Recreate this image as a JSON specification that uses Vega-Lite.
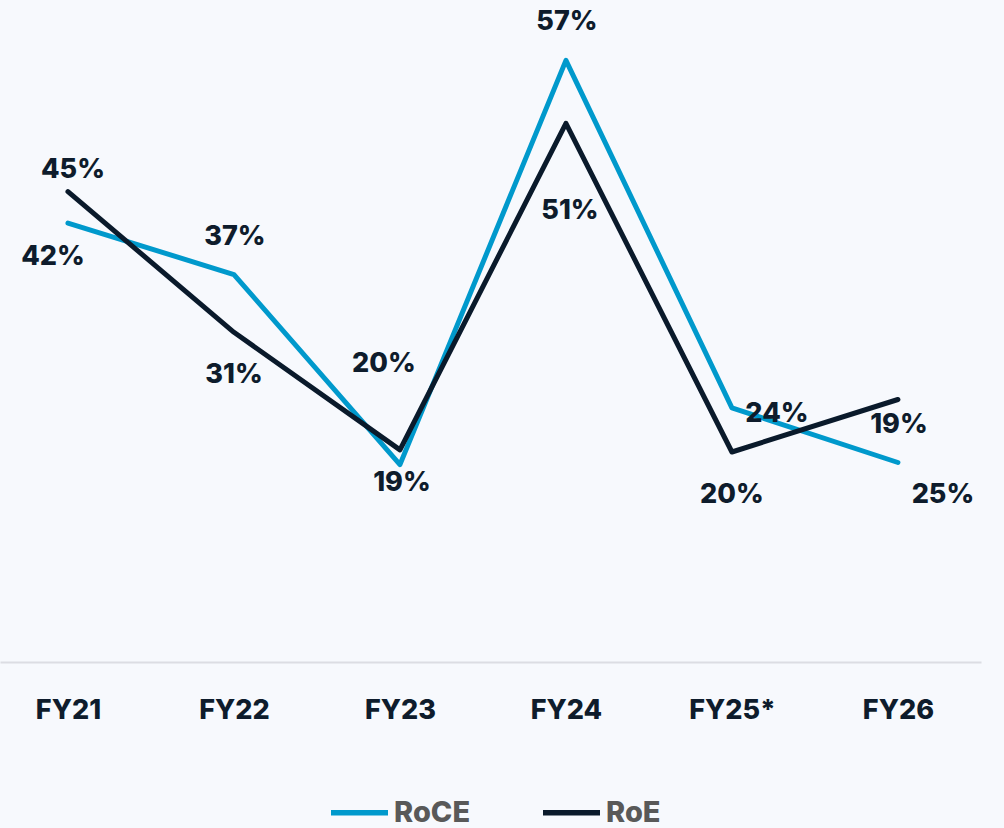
{
  "$schema": "https://vega.github.io/schema/vega-lite/v6.json",
  "width": 981,
  "height": 630,
  "autosize": "none",
  "padding": {"left": 0, "top": 32, "right": 23, "bottom": 166},
  "background": "#f7f9fd",
  "config": {"view": {"stroke": null}},
  "data": {
    "values": [
      {"period": "FY21", "series": "RoCE", "value": 0.418},
      {"period": "FY22", "series": "RoCE", "value": 0.369},
      {"period": "FY23", "series": "RoCE", "value": 0.188},
      {"period": "FY24", "series": "RoCE", "value": 0.573},
      {"period": "FY25*", "series": "RoCE", "value": 0.242},
      {"period": "FY26", "series": "RoCE", "value": 0.19},
      {"period": "FY21", "series": "RoE", "value": 0.448},
      {"period": "FY22", "series": "RoE", "value": 0.314},
      {"period": "FY23", "series": "RoE", "value": 0.202},
      {"period": "FY24", "series": "RoE", "value": 0.513},
      {"period": "FY25*", "series": "RoE", "value": 0.2},
      {"period": "FY26", "series": "RoE", "value": 0.25}
    ]
  },
  "layer": [
    {
      "mark": {"type": "line", "strokeWidth": 5, "strokeCap": "round", "strokeJoin": "round"},
      "encoding": {
        "x": {
          "field": "period", "type": "nominal",
          "scale": {"type": "point", "padding": 0.455, "align": 0.45},
          "axis": {"title": null, "domain": true, "domainColor": "#dcdde3", "domainWidth": 2, "ticks": false, "grid": false, "labelAngle": 0, "labelFont": "Inter", "labelFontSize": 27, "labelFontWeight": 800, "labelColor": "#0e1c2c", "labelBaseline": "middle", "labelPadding": 48}
        },
        "y": {"field": "value", "type": "quantitative", "scale": {"domain": [0, 0.6]}, "axis": null},
        "color": {
          "field": "series", "type": "nominal",
          "scale": {"domain": ["RoCE", "RoE"], "range": ["#0099cc", "#0a1a2b"]},
          "legend": {
            "orient": "none", "legendX": 328, "legendY": 749, "direction": "horizontal", "title": null,
            "symbolType": "stroke", "symbolSize": 3249, "symbolStrokeWidth": 5.5,
            "labelFont": "Inter", "labelFontSize": 29, "labelFontWeight": 800, "labelColor": "#595959",
            "labelOffset": 3, "columnPadding": 61
          }
        }
      }
    },
    {
      "transform": [{"filter": "datum.series == 'RoCE' && (datum.period == 'FY22' || datum.period == 'FY24' || datum.period == 'FY26')"}],
      "mark": {"type": "text", "dx": 1, "dy": -38, "font": "Inter", "fontSize": 27, "fontWeight": 800, "color": "#0e1c2c", "baseline": "middle"},
      "encoding": {"x": {"field": "period", "type": "nominal"}, "y": {"field": "value", "type": "quantitative"}, "text": {"field": "value", "type": "quantitative", "format": ".0%"}}
    },
    {
      "transform": [{"filter": "datum.series == 'RoE' && (datum.period == 'FY22' || datum.period == 'FY25*')"}],
      "mark": {"type": "text", "dx": 0, "dy": 43, "font": "Inter", "fontSize": 27, "fontWeight": 800, "color": "#0e1c2c", "baseline": "middle"},
      "encoding": {"x": {"field": "period", "type": "nominal"}, "y": {"field": "value", "type": "quantitative"}, "text": {"field": "value", "type": "quantitative", "format": ".0%"}}
    },
    {
      "transform": [{"filter": "datum.series == 'RoCE' && datum.period == 'FY21'"}],
      "mark": {"type": "text", "dx": -15, "dy": 34, "font": "Inter", "fontSize": 27, "fontWeight": 800, "color": "#0e1c2c", "baseline": "middle"},
      "encoding": {"x": {"field": "period", "type": "nominal"}, "y": {"field": "value", "type": "quantitative"}, "text": {"field": "value", "type": "quantitative", "format": ".0%"}}
    },
    {
      "transform": [{"filter": "datum.series == 'RoE' && datum.period == 'FY21'"}],
      "mark": {"type": "text", "dx": 5, "dy": -22, "font": "Inter", "fontSize": 27, "fontWeight": 800, "color": "#0e1c2c", "baseline": "middle"},
      "encoding": {"x": {"field": "period", "type": "nominal"}, "y": {"field": "value", "type": "quantitative"}, "text": {"field": "value", "type": "quantitative", "format": ".0%"}}
    },
    {
      "transform": [{"filter": "datum.series == 'RoCE' && datum.period == 'FY23'"}],
      "mark": {"type": "text", "dx": 2, "dy": 18, "font": "Inter", "fontSize": 27, "fontWeight": 800, "color": "#0e1c2c", "baseline": "middle"},
      "encoding": {"x": {"field": "period", "type": "nominal"}, "y": {"field": "value", "type": "quantitative"}, "text": {"field": "value", "type": "quantitative", "format": ".0%"}}
    },
    {
      "transform": [{"filter": "datum.series == 'RoE' && datum.period == 'FY23'"}],
      "mark": {"type": "text", "dx": -16, "dy": -86, "font": "Inter", "fontSize": 27, "fontWeight": 800, "color": "#0e1c2c", "baseline": "middle"},
      "encoding": {"x": {"field": "period", "type": "nominal"}, "y": {"field": "value", "type": "quantitative"}, "text": {"field": "value", "type": "quantitative", "format": ".0%"}}
    },
    {
      "transform": [{"filter": "datum.series == 'RoE' && datum.period == 'FY24'"}],
      "mark": {"type": "text", "dx": 4, "dy": 88, "font": "Inter", "fontSize": 27, "fontWeight": 800, "color": "#0e1c2c", "baseline": "middle"},
      "encoding": {"x": {"field": "period", "type": "nominal"}, "y": {"field": "value", "type": "quantitative"}, "text": {"field": "value", "type": "quantitative", "format": ".0%"}}
    },
    {
      "transform": [{"filter": "datum.series == 'RoCE' && datum.period == 'FY25*'"}],
      "mark": {"type": "text", "dx": 45, "dy": 6, "font": "Inter", "fontSize": 27, "fontWeight": 800, "color": "#0e1c2c", "baseline": "middle"},
      "encoding": {"x": {"field": "period", "type": "nominal"}, "y": {"field": "value", "type": "quantitative"}, "text": {"field": "value", "type": "quantitative", "format": ".0%"}}
    },
    {
      "transform": [{"filter": "datum.series == 'RoE' && datum.period == 'FY26'"}],
      "mark": {"type": "text", "dx": 45, "dy": 95, "font": "Inter", "fontSize": 27, "fontWeight": 800, "color": "#0e1c2c", "baseline": "middle"},
      "encoding": {"x": {"field": "period", "type": "nominal"}, "y": {"field": "value", "type": "quantitative"}, "text": {"field": "value", "type": "quantitative", "format": ".0%"}}
    }
  ]
}
